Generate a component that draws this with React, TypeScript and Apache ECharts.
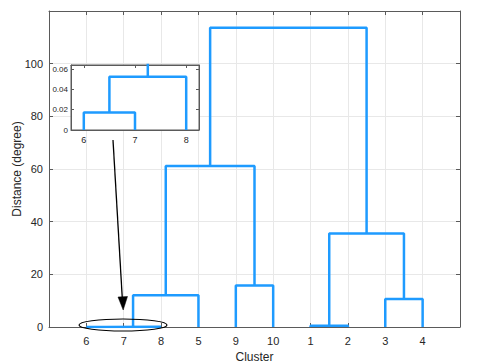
import React, { useEffect, useRef } from "react";
import * as echarts from "echarts";

// Leaf order along the x axis (dendrogram order)
const leafOrder = ["6", "7", "8", "5", "9", "10", "1", "2", "3", "4"];
// Linkage: [left id, right id, height]; leaves are 1..10 (cluster labels), merged nodes are 11..
const mergeLeft = [6, 11, 12, 9, 13, 1, 3, 16, 15];
const mergeRight = [7, 8, 5, 10, 14, 2, 4, 17, 18];
const mergeHeight = [0.0173, 0.0524, 12.1, 15.8, 61.1, 0.5, 10.6, 35.5, 113.6];
const yTicksMain = [0, 20, 40, 60, 80, 100, 120];
const yTicksInset = [0, 0.02, 0.04, 0.06];
const insetLeaves = [1, 2, 3];

const BLUE = "#1E9BFF";
const AXIS = "#5a5a5a";
const TEXT = "#262626";
const GRID = "#e8e8e8";

function buildSegments(): (number[] | string)[] {
  const xPos: Record<number, number> = {};
  const hPos: Record<number, number> = {};
  leafOrder.forEach((lab, i) => {
    xPos[Number(lab)] = i + 1;
    hPos[Number(lab)] = 0;
  });
  const pts: (number[] | string)[] = [];
  mergeLeft.forEach((l, k) => {
    const r = mergeRight[k];
    const h = mergeHeight[k];
    const id = 11 + k;
    pts.push([xPos[l], hPos[l]], [xPos[l], h], [xPos[r], h], [xPos[r], hPos[r]], "-");
    xPos[id] = (xPos[l] + xPos[r]) / 2;
    hPos[id] = h;
  });
  return pts;
}

export default function App() {
  const ref = useRef<HTMLDivElement>(null);
  useEffect(() => {
    if (!ref.current) return;
    const chart = echarts.init(ref.current, undefined, { renderer: "svg" });
    const segs = buildSegments();
    const font = "Liberation Sans, Arial, sans-serif";
    const boxAxis = (extra: any) => ({
      axisLine: { show: true, onZero: false, lineStyle: { color: AXIS, width: 1 } },
      axisTick: { show: true, inside: true, length: 4, lineStyle: { color: AXIS } },
      ...extra,
    });
    chart.setOption({
      animation: false,
      textStyle: { fontFamily: font },
      grid: [
        { left: 49, right: 25, top: 11, bottom: 37, show: false, containLabel: false, outerBoundsMode: "none" },
        {
          left: 71, top: 65, width: 128, height: 65, show: true, z: 5,
          backgroundColor: "#fff", borderColor: AXIS, borderWidth: 1,
          containLabel: false, outerBoundsMode: "none",
        },
      ],
      xAxis: [
        boxAxis({
          type: "value", gridIndex: 0, position: "bottom", min: 0, max: 11, interval: 1,
          name: "Cluster", nameLocation: "middle", nameGap: 21,
          nameTextStyle: { color: TEXT, fontSize: 12 },
          axisLabel: {
            color: TEXT, fontSize: 11, margin: 8,
            formatter: (v: number) => leafOrder[v - 1] ?? "",
          },
          splitLine: { show: true, lineStyle: { color: GRID, width: 1 } },
        }),
        boxAxis({
          type: "value", gridIndex: 0, position: "top", min: 0, max: 11, interval: 1,
          axisLabel: { show: false }, splitLine: { show: false },
        }),
        boxAxis({
          type: "value", gridIndex: 1, position: "bottom", min: 0.75, max: 3.25, z: 6,
          axisTick: { show: true, inside: true, length: 3, lineStyle: { color: AXIS }, customValues: insetLeaves },
          axisLabel: {
            color: TEXT, fontSize: 9, margin: 5, customValues: insetLeaves,
            formatter: (v: number) => leafOrder[Math.round(v) - 1] ?? "",
          },
          splitLine: { show: false },
        }),
        boxAxis({
          type: "value", gridIndex: 1, position: "top", min: 0.75, max: 3.25, z: 6,
          axisTick: { show: true, inside: true, length: 3, lineStyle: { color: AXIS }, customValues: insetLeaves },
          axisLabel: { show: false }, splitLine: { show: false },
        }),
      ],
      yAxis: [
        boxAxis({
          type: "value", gridIndex: 0, position: "left", min: 0, max: 120, interval: 20,
          name: "Distance (degree)", nameLocation: "middle", nameGap: 26, nameMoveOverlap: false,
          nameTextStyle: { color: TEXT, fontSize: 12 },
          axisLabel: {
            color: TEXT, fontSize: 11, margin: 6,
            formatter: (v: number) => (v === yTicksMain[yTicksMain.length - 1] ? "" : String(v)),
          },
          splitLine: { show: true, lineStyle: { color: GRID, width: 1 } },
        }),
        boxAxis({
          type: "value", gridIndex: 0, position: "right", min: 0, max: 120, interval: 20,
          axisLabel: { show: false }, splitLine: { show: false },
        }),
        boxAxis({
          type: "value", gridIndex: 1, position: "left", min: 0, max: 0.064, z: 6,
          axisTick: { show: true, inside: true, length: 3, lineStyle: { color: AXIS }, customValues: yTicksInset },
          axisLabel: {
            color: TEXT, fontSize: 8, margin: 3, customValues: yTicksInset,
            formatter: (v: number) => (v === 0 ? "0" : v.toFixed(2)),
          },
          splitLine: { show: false },
        }),
        boxAxis({
          type: "value", gridIndex: 1, position: "right", min: 0, max: 0.064, z: 6,
          axisTick: { show: true, inside: true, length: 3, lineStyle: { color: AXIS }, customValues: yTicksInset },
          axisLabel: { show: false }, splitLine: { show: false },
        }),
      ],
      series: [
        {
          type: "line", xAxisIndex: 0, yAxisIndex: 0, data: segs, symbol: "none",
          connectNulls: false, clip: true, lineStyle: { color: BLUE, width: 2.5 }, z: 3,
        },
        {
          type: "line", xAxisIndex: 2, yAxisIndex: 2, data: segs, symbol: "none",
          connectNulls: false, clip: true, lineStyle: { color: BLUE, width: 2.5 }, z: 7,
        },
      ],
      graphic: [
        {
          type: "ellipse", z: 100,
          shape: { cx: 123, cy: 325, rx: 44, ry: 6 },
          style: { fill: "none", stroke: "#000", lineWidth: 1.2 },
        },
        {
          type: "line", z: 100,
          shape: { x1: 113, y1: 140, x2: 122.5, y2: 302 },
          style: { stroke: "#000", lineWidth: 1.3 },
        },
        {
          type: "polygon", z: 100,
          shape: { points: [[118, 297], [127.5, 296.5], [123.2, 310]] },
          style: { fill: "#000", stroke: "#000", lineWidth: 0.5 },
        },
      ],
    });
    return () => chart.dispose();
  }, []);
  return <div ref={ref} style={{ width: 485, height: 364, position: "absolute", left: 0, top: 0 }} />;
}
